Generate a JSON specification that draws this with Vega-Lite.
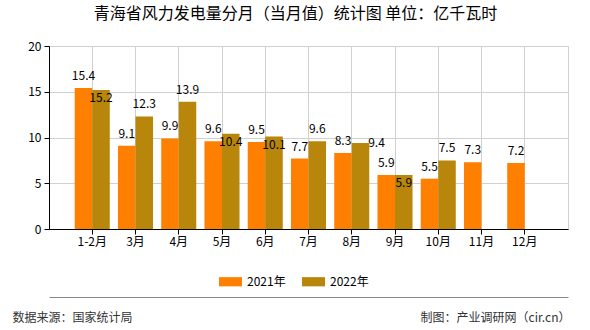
{
  "$schema": "https://vega.github.io/schema/vega-lite/v6.json",
  "width": 519,
  "height": 183,
  "autosize": "none",
  "padding": {"left": 49, "top": 46, "right": 22, "bottom": 101},
  "background": "white",
  "title": {
    "text": "青海省风力发电量分月（当月值）统计图 单位：亿千瓦时",
    "font": "Noto Sans CJK SC",
    "fontSize": 16,
    "fontWeight": "normal",
    "color": "#000000",
    "anchor": "middle",
    "dx": -13,
    "offset": 18
  },
  "config": {
    "view": {"stroke": "#d0d0d0"},
    "font": "Noto Sans CJK SC"
  },
  "data": {
    "values": [
      {"month": "1-2月", "2021年": 15.4, "2022年": 15.2},
      {"month": "3月", "2021年": 9.1, "2022年": 12.3},
      {"month": "4月", "2021年": 9.9, "2022年": 13.9},
      {"month": "5月", "2021年": 9.6, "2022年": 10.4},
      {"month": "6月", "2021年": 9.5, "2022年": 10.1},
      {"month": "7月", "2021年": 7.7, "2022年": 9.6},
      {"month": "8月", "2021年": 8.3, "2022年": 9.4},
      {"month": "9月", "2021年": 5.9, "2022年": 5.9},
      {"month": "10月", "2021年": 5.5, "2022年": 7.5},
      {"month": "11月", "2021年": 7.3, "2022年": null},
      {"month": "12月", "2021年": 7.2, "2022年": null}
    ]
  },
  "transform": [
    {"calculate": "abs(datum['2022年'] - datum['2021年'])", "as": "diff"},
    {"fold": ["2021年", "2022年"], "as": ["year", "value"]},
    {"filter": "isValid(datum.value)"}
  ],
  "encoding": {
    "x": {
      "field": "month", "type": "nominal", "sort": null,
      "scale": {"paddingInner": 0.19, "paddingOuter": 0.595},
      "axis": null
    },
    "xOffset": {
      "field": "year", "type": "nominal",
      "scale": {"domain": ["2021年", "2022年"], "paddingInner": 0, "paddingOuter": 0}
    },
    "y": {
      "field": "value", "type": "quantitative",
      "scale": {"domain": [0, 20], "nice": false},
      "axis": {
        "values": [0, 5, 10, 15, 20],
        "title": null,
        "grid": true,
        "gridColor": "#d0d0d0",
        "domainColor": "#000000",
        "tickColor": "#000000",
        "tickSize": 5,
        "labelFontSize": 12,
        "labelColor": "#000000",
        "labelPadding": 3
      }
    }
  },
  "resolve": {"axis": {"x": "independent"}},
  "layer": [
    {
      "mark": {"type": "bar"},
      "encoding": {
        "x": {
          "field": "month", "type": "nominal", "sort": null,
          "scale": {"paddingInner": 0.19, "paddingOuter": 0.595},
          "axis": {
            "orient": "bottom",
            "title": "数据来源：国家统计局",
            "titleX": -37,
            "titleY": 88,
            "titleAlign": "left",
            "titleBaseline": "middle",
            "titleFontSize": 12,
            "titleFontWeight": "normal",
            "titleColor": "#333333",
            "labelAngle": 0,
            "labelFontSize": 12,
            "labelColor": "#000000",
            "labelPadding": 2,
            "tickSize": 5,
            "tickColor": "#000000",
            "domainColor": "#000000",
            "grid": true,
            "gridColor": "#d0d0d0",
            "bandPosition": 0.5
          }
        },
        "color": {
          "field": "year", "type": "nominal",
          "scale": {"domain": ["2021年", "2022年"], "range": ["#FF8000", "#B8860B"]},
          "legend": {
            "orient": "none",
            "legendX": 170,
            "legendY": 224,
            "direction": "horizontal",
            "title": null,
            "symbolType": "M-1,-0.4H1V0.4H-1Z",
            "symbolSize": 529,
            "symbolStrokeWidth": 0,
            "labelFontSize": 12,
            "labelColor": "#000000",
            "labelOffset": 5,
            "columnPadding": 16
          }
        }
      }
    },
    {
      "transform": [{"filter": "datum.year == '2021年'"}],
      "mark": {"type": "text", "dy": -12, "baseline": "middle", "fontSize": 12, "color": "#000000"},
      "encoding": {
        "x": {
          "field": "month", "type": "nominal", "sort": null,
          "scale": {"paddingInner": 0.19, "paddingOuter": 0.595},
          "axis": {
            "orient": "bottom",
            "offset": 68,
            "labels": false,
            "ticks": false,
            "grid": false,
            "domainColor": "#888888",
            "domainWidth": 1,
            "title": "制图：产业调研网（cir.cn）",
            "titleX": 521,
            "titleY": 20,
            "titleAlign": "right",
            "titleBaseline": "middle",
            "titleFontSize": 12,
            "titleFontWeight": "normal",
            "titleColor": "#333333"
          }
        },
        "text": {"field": "value", "type": "quantitative", "format": ".1f"}
      }
    },
    {
      "transform": [{"filter": "datum.year == '2022年' && datum.diff >= 1.5"}],
      "mark": {"type": "text", "dy": -12, "baseline": "middle", "fontSize": 12, "color": "#000000"},
      "encoding": {"text": {"field": "value", "type": "quantitative", "format": ".1f"}}
    },
    {
      "transform": [{"filter": "datum.year == '2022年' && datum.diff < 1.0"}],
      "mark": {"type": "text", "dy": 8, "baseline": "middle", "fontSize": 12, "color": "#000000"},
      "encoding": {"text": {"field": "value", "type": "quantitative", "format": ".1f"}}
    },
    {
      "transform": [{"filter": "datum.year == '2022年' && datum.diff >= 1.0 && datum.diff < 1.5"}],
      "mark": {"type": "text", "dx": 16, "dy": 0, "baseline": "middle", "fontSize": 12, "color": "#000000"},
      "encoding": {"text": {"field": "value", "type": "quantitative", "format": ".1f"}}
    }
  ]
}
